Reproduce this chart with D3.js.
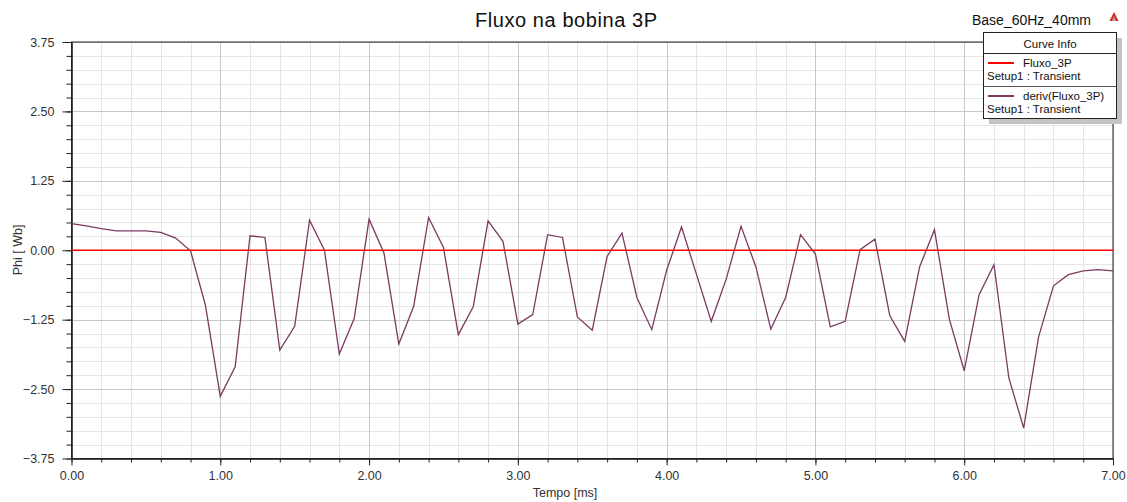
<!DOCTYPE html>
<html><head><meta charset="utf-8">
<script src="https://cdn.jsdelivr.net/npm/d3@7"></script>
<style>body{margin:0;background:#fff;} svg{display:block;font-family:"Liberation Sans",Arial,sans-serif;}</style>
</head><body>
<svg id="c" width="1127" height="502"></svg>
<script>
const title = "Fluxo na bobina 3P";
const subtitle = "Base_60Hz_40mm";
const xLabel = "Tempo [ms]";
const yLabel = "Phi  [ Wb]";
const xTicks = [0,1,2,3,4,5,6,7];
const yTicks = [-3.75,-2.5,-1.25,0,1.25,2.5,3.75];
const time = d3.range(0,71).map(i=>+(i*0.1).toFixed(1));
const fluxo = time.map(()=>0);
const deriv = [0.48,0.44,0.39,0.35,0.35,0.35,0.32,0.22,-0.01,-0.99,
  -2.63,-2.10,0.26,0.23,-1.80,-1.37,0.54,0.00,-1.87,-1.23,
  0.56,-0.05,-1.69,-1.01,0.59,0.05,-1.52,-1.02,0.53,0.16,
  -1.33,-1.16,0.28,0.23,-1.20,-1.44,-0.11,0.31,-0.85,-1.43,
  -0.36,0.42,-0.43,-1.28,-0.52,0.43,-0.30,-1.42,-0.85,0.28,
  -0.07,-1.38,-1.28,0.01,0.20,-1.18,-1.64,-0.30,0.37,-1.24,
  -2.17,-0.80,-0.26,-2.30,-3.20,-1.56,-0.64,-0.44,-0.37,-0.35,-0.37];
const seriesNames = ["Fluxo_3P","deriv(Fluxo_3P)"];
const seriesSub = ["Setup1 : Transient","Setup1 : Transient"];
const colors = ["#ff0000","#7d3a60"];

const svg = d3.select("#c");
const L=71.5, R=1113, T=42, B=458.5;
const x = d3.scaleLinear().domain([0,7]).range([L,R]);
const y = d3.scaleLinear().domain([-3.75,3.75]).range([B,T]);

// grid
const g = svg.append("g");
const xMinor = d3.range(0,7.001,0.2).map(v=>+v.toFixed(2));
const yMinor = d3.range(-3.75,3.7501,0.25).map(v=>+v.toFixed(2));
g.selectAll(".xm").data(xMinor).enter().append("line")
 .attr("x1",d=>Math.round(x(d))+0.5).attr("x2",d=>Math.round(x(d))+0.5).attr("y1",T).attr("y2",B)
 .attr("stroke","#e6e6e6");
g.selectAll(".ym").data(yMinor).enter().append("line")
 .attr("y1",d=>Math.round(y(d))+0.5).attr("y2",d=>Math.round(y(d))+0.5).attr("x1",L).attr("x2",R)
 .attr("stroke","#e6e6e6");
g.selectAll(".xM").data(xTicks).enter().append("line")
 .attr("x1",d=>Math.round(x(d))+0.5).attr("x2",d=>Math.round(x(d))+0.5).attr("y1",T).attr("y2",B)
 .attr("stroke","#c8c8c8");
g.selectAll(".yM").data(yTicks).enter().append("line")
 .attr("y1",d=>Math.round(y(d))+0.5).attr("y2",d=>Math.round(y(d))+0.5).attr("x1",L).attr("x2",R)
 .attr("stroke","#c8c8c8");

// axes
const xAx = svg.append("g").attr("transform",`translate(0,${B})`)
  .call(d3.axisBottom(x).tickValues(xTicks).tickFormat(d3.format(".2f")).tickSize(7).tickSizeOuter(0));
const xAxm = svg.append("g").attr("transform",`translate(0,${B})`)
  .call(d3.axisBottom(x).tickValues(xMinor).tickFormat("").tickSize(4).tickSizeOuter(0));
const yAx = svg.append("g").attr("transform",`translate(${L},0)`)
  .call(d3.axisLeft(y).tickValues(yTicks).tickFormat(d3.format(".2f")).tickSize(9).tickPadding(8).tickSizeOuter(0));
const yAxm = svg.append("g").attr("transform",`translate(${L},0)`)
  .call(d3.axisLeft(y).tickValues(yMinor).tickFormat("").tickSize(5).tickSizeOuter(0));
[xAx,xAxm,yAx,yAxm].forEach(a=>{a.selectAll("path").attr("stroke","#222");a.selectAll("line").attr("stroke","#222");
  a.selectAll("text").attr("fill","#333").style("font-size","12.5px").style("font-family","Liberation Sans, Arial, sans-serif");});
xAx.selectAll("text").attr("dy","0.95em");
// frame
svg.append("rect").attr("x",L).attr("y",T).attr("width",R-L).attr("height",B-T)
  .attr("fill","none").attr("stroke","#222").attr("stroke-width",1);

// lines
const line = d3.line().x((d,i)=>x(time[i])).y(d=>y(d));
svg.append("path").datum(deriv).attr("d",line).attr("fill","none").attr("stroke",colors[1]).attr("stroke-width",1.3);
svg.append("path").datum(fluxo).attr("d",line).attr("fill","none").attr("stroke",colors[0]).attr("stroke-width",1.5);

// titles
svg.append("text").attr("x",475).attr("y",27).attr("textLength",182).attr("lengthAdjust","spacing")
  .style("font-size","20px").attr("fill","#111").text(title);
svg.append("text").attr("x",972).attr("y",25).attr("textLength",119).attr("lengthAdjust","spacing")
  .style("font-size","14px").attr("fill","#111").text(subtitle);
svg.append("text").attr("x",565).attr("y",497).attr("text-anchor","middle").style("font-size","12.5px").attr("fill","#333").text(xLabel);
svg.append("text").attr("transform","translate(22,250) rotate(-90)").attr("text-anchor","middle").style("font-size","12.5px").attr("fill","#333").text(yLabel);
// logo
svg.append("path").attr("d","M1114,12 L1118.5,21 L1109.5,21 Z").attr("fill","#d22");
svg.append("path").attr("d","M1114,16 L1116,21 L1112,21 Z").attr("fill","#aaa");

// legend
const lg = svg.append("g");
lg.append("rect").attr("x",989).attr("y",38).attr("width",133).attr("height",86).attr("fill","#c4c4c4");
lg.append("rect").attr("x",983.5).attr("y",32.5).attr("width",133).attr("height",86).attr("fill","#fff").attr("stroke","#222");
lg.append("text").attr("x",1050).attr("y",48).attr("text-anchor","middle").style("font-size","11.5px").attr("fill","#111").text("Curve Info");
lg.append("line").attr("x1",984).attr("x2",1116).attr("y1",53.5).attr("y2",53.5).attr("stroke","#222");
lg.append("line").attr("x1",984).attr("x2",1116).attr("y1",86.5).attr("y2",86.5).attr("stroke","#555");
seriesNames.forEach((n,i)=>{
  const y0 = 63 + i*33;
  lg.append("line").attr("x1",988).attr("x2",1014).attr("y1",y0).attr("y2",y0).attr("stroke",colors[i]).attr("stroke-width",2);
  lg.append("text").attr("x",1023).attr("y",y0+4).style("font-size","11.5px").attr("fill","#111").text(n);
  lg.append("text").attr("x",987).attr("y",y0+17).style("font-size","11.5px").attr("fill","#111").text(seriesSub[i]);
});
</script>
</body></html>
